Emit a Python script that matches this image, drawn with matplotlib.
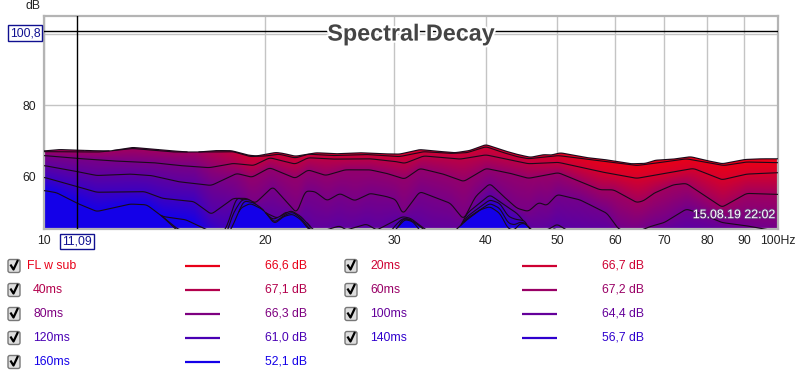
"""Spectral decay waterfall, REW style."""
import numpy as np
import matplotlib
matplotlib.use('Agg')
import matplotlib.pyplot as plt
import matplotlib.patheffects as pe
from matplotlib.patches import FancyBboxPatch

plt.rcParams['font.family'] = ['Liberation Sans', 'DejaVu Sans']

# curves, top to bottom (freq in Hz, level in dB)
F0 = [10, 10.5, 11.5, 12.3, 13.2, 14.5, 15, 16, 17.1, 18, 19, 19.5, 20.7, 21.2, 22, 23.5, 25, 27, 29, 30.5, 32.5, 34, 36.3, 38, 40, 42, 44, 46, 48, 49, 50.5, 55, 58, 60, 63, 66, 68, 72, 76, 80, 84, 90, 95, 100]
DB0 = [67.2, 67.6, 67.3, 67.2, 68.2, 67.5, 67.2, 66.8, 67.3, 67.3, 66.0, 65.8, 66.8, 66.5, 65.7, 66.7, 66.4, 66.7, 66.4, 66.3, 67.6, 67.2, 66.7, 67.3, 69.0, 67.5, 66.3, 65.4, 66.2, 66.0, 66.7, 65.3, 64.8, 64.3, 63.6, 63.7, 64.6, 64.9, 65.6, 64.5, 63.6, 64.8, 65.0, 65.0]
F1 = [10, 11.9, 13.2, 15, 17, 18.1, 19.1, 20.1, 20.9, 22, 22.9, 24.8, 27.5, 30.5, 32.9, 35.8, 37.7, 40, 42.3, 44.1, 45.7, 50.2, 54.3, 57.2, 64.2, 67.7, 75, 84.4, 90.6, 100]
DB1 = [67.0, 66.9, 67.9, 66.9, 66.9, 67.0, 65.6, 65.8, 66.3, 65.2, 66.3, 65.9, 66.2, 65.6, 67.0, 66.5, 66.7, 68.4, 66.7, 65.6, 65.0, 65.9, 65.0, 64.4, 63.1, 63.7, 65.0, 63.1, 64.1, 63.9]
F2 = [10, 11.1, 12.4, 14.1, 15.3, 16.8, 18.1, 19.3, 20.3, 22, 22.9, 24.8, 27.8, 30.2, 31, 32.9, 36.9, 40, 42.7, 45.7, 50.2, 57.2, 64.2, 69.2, 76.7, 83.9, 90.6, 100]
DB2 = [65.9, 65.1, 64.4, 63.9, 63.1, 62.5, 63.7, 63.1, 65.3, 63.5, 65.3, 64.9, 65.0, 64.2, 63.7, 65.8, 64.9, 66.1, 64.9, 63.6, 64.0, 61.4, 59.5, 60.7, 62.3, 59.1, 60.7, 61.1]
F3 = [10, 11.1, 11.8, 13.1, 14, 15.2, 16.9, 18.3, 19.2, 20.3, 22, 22.9, 24.2, 25.7, 27.8, 29.3, 31, 32.5, 35, 37.3, 40, 43.2, 45.7, 50.2, 57.2, 59.7, 64.2, 65.6, 67.7, 72, 75, 83.9, 90.6, 100]
DB3 = [63.1, 61.4, 60.3, 60.7, 60.3, 58.6, 57.5, 60.9, 59.8, 62.5, 59.5, 61.9, 60.3, 61.9, 61.9, 60.9, 59.3, 62.3, 60.7, 58.6, 62.3, 60.9, 59.5, 61.1, 56.3, 56.3, 52.7, 53.2, 55.3, 57.7, 58.1, 51.4, 55.3, 55.0]
F4 = [10, 11.1, 11.8, 13.7, 14.5, 16, 16.9, 18.1, 18.9, 19.4, 20.5, 22.1, 22.7, 23.4, 24.3, 25.3, 26.5, 27.8, 29.3, 30.2, 30.8, 32.5, 35.8, 37.3, 38.7, 40.5, 42.3, 44.1, 45.7, 47.2, 48.4, 50, 53.7, 58.5, 60.6, 63.5, 67, 70, 75, 78.3, 83.9, 90.6, 100]
DB4 = [59.8, 57.2, 55.6, 55.8, 53.9, 53.0, 49.4, 53.9, 53.9, 52.5, 57.2, 49.7, 56.0, 55.8, 53.2, 55.3, 53.2, 55.3, 54.4, 53.5, 49.3, 55.8, 52.5, 47.9, 54.4, 58.1, 54.4, 51.1, 50.2, 52.8, 51.8, 55.0, 53.5, 49.7, 45.3, 44.1, 46.0, 47.1, 50.9, 49.7, 47.1, 46.2, 44.6]
F5 = [10, 10.4, 11.1, 11.8, 13.1, 13.8, 14.5, 15.6, 16.7, 17.4, 17.7, 18.3, 19.3, 20.1, 20.8, 21.4, 22.1, 22.9, 23.4, 25.3, 25.8, 27.5, 28.4, 29.6, 30.8, 31.6, 33, 33.9, 36.5, 37.7, 40.5, 42.7, 44.1, 46, 46.9, 48.8, 50, 51.5, 54.9, 100]
DB5 = [56.1, 55.5, 52.5, 50.2, 52.3, 52.1, 48.8, 47.9, 45.0, 44.1, 45.3, 54.2, 52.3, 49.7, 48.3, 50.2, 48.8, 46.9, 44.1, 46.2, 45.0, 46.7, 45.0, 46.9, 48.8, 48.3, 45.3, 44.1, 44.1, 49.7, 54.9, 51.6, 49.7, 45.3, 44.1, 45.3, 46.7, 45.0, 43.6, 43.6]
F6 = [10, 10.4, 11.1, 11.8, 13.1, 13.8, 14.5, 15.2, 16.3, 17.7, 18.1, 18.6, 19.1, 19.6, 20.5, 21.2, 21.7, 22.4, 23.2, 24, 29.6, 30, 30.8, 31.5, 32.5, 33, 35.8, 36.7, 37.7, 40.5, 41.8, 42.9, 43.9, 45.3, 46, 49, 49.5, 50.5, 100]
DB6 = [56.1, 55.5, 52.5, 50.2, 52.3, 52.1, 48.8, 45.3, 43.6, 43.6, 49.7, 53.6, 53.5, 51.6, 47.9, 49.3, 50.5, 48.8, 45.3, 43.6, 44.1, 46.0, 48.3, 48.1, 46.0, 43.6, 43.6, 45.3, 48.8, 53.5, 52.5, 48.8, 48.0, 47.6, 44.1, 44.1, 46.0, 43.6, 43.6]
F7 = [10, 10.4, 11.1, 11.8, 13.1, 13.8, 14.5, 15.2, 16.3, 17.7, 18, 18.7, 19.3, 19.8, 20.6, 21.2, 21.8, 22.4, 23, 24, 29.6, 30.2, 30.8, 31.6, 32.9, 33.2, 35.8, 36.7, 37.7, 40.5, 41.8, 42.9, 43.9, 44.3, 45.3, 46, 49, 100]
DB7 = [56.1, 55.5, 52.5, 50.2, 52.3, 52.1, 48.8, 45.3, 43.6, 43.6, 45.3, 53.2, 52.7, 51.1, 47.1, 49.0, 50.1, 48.3, 45.3, 43.6, 43.6, 45.0, 48.2, 47.9, 45.3, 43.6, 43.6, 45.3, 48.3, 52.5, 51.1, 46.9, 46.4, 47.2, 47.1, 44.6, 43.6, 43.6]
F8 = [10, 10.4, 11.1, 11.8, 13.1, 13.8, 14.5, 15.1, 15.6, 17.7, 18, 18.5, 19.1, 19.9, 20.6, 21.2, 21.8, 22.4, 22.9, 23.8, 29.6, 30.2, 31, 31.8, 32.4, 32.9, 35.8, 36.5, 37.7, 39.3, 40.5, 41.8, 42.9, 43.9, 44.3, 45.3, 46, 46.9, 100]
DB8 = [56.1, 55.5, 52.5, 50.2, 52.3, 52.1, 48.8, 45.3, 43.6, 43.6, 45.3, 51.1, 52.5, 50.7, 46.7, 48.8, 49.5, 47.9, 45.3, 43.6, 43.6, 45.3, 48.0, 47.4, 45.3, 43.6, 43.6, 45.3, 47.9, 50.7, 51.6, 49.7, 45.3, 45.0, 46.7, 46.9, 45.0, 43.6, 43.6]

CURVE_F = [F0, F1, F2, F3, F4, F5, F6, F7, F8]
CURVE_DB = [DB0, DB1, DB2, DB3, DB4, DB5, DB6, DB7, DB8]

# which decay time the fill colour of each curve looks like, per part of the band
ZONE_F = [16, 19, 45, 58]
T_LEFT = [50, 55, 85, 105, 130, 160, 160, 160, 160]
T_MID = [15, 20, 35, 65, 85, 105, 125, 145, 160]
T_RIGHT = [0, 0, 15, 55, 90, 110, 130, 145, 160]

X_TICKS = [10, 20, 30, 40, 50, 60, 70, 80, 90, 100]
X_LABELS = ['10', '20', '30', '40', '50', '60', '70', '80', '90', '100Hz']
Y_TICKS = [60, 80, 100]
CURSOR_F = 11.09
CURSOR_DB = 100.8

LEGEND_NAMES = ['FL w sub', '20ms', '40ms', '60ms', '80ms', '100ms', '120ms', '140ms', '160ms']
LEGEND_TIMES = [0, 20, 40, 60, 80, 100, 120, 140, 160]
LEGEND_VALUES = ['66,6 dB', '66,7 dB', '67,1 dB', '67,2 dB', '66,3 dB', '64,4 dB', '61,0 dB', '56,7 dB', '52,1 dB']


def time_colour(t):
    k = np.asarray(t, dtype=float) / 160.0
    return np.stack([(232 - 212 * k) / 255, 0 * k, (24 + 208 * k) / 255], axis=-1)


fig = plt.figure(figsize=(8, 3.77), dpi=100, facecolor='white')
ax = fig.add_axes([44 / 800, 1 - 229 / 377, 734 / 800, 213 / 377])
ax.set_xscale('log')
ax.set_xlim(10, 100)
ax.set_ylim(45.3, 105.05)

# put every curve on one dense x grid and take the corners off
xs = np.logspace(1, 2, 735)
kernel = np.hanning(11)
kernel /= kernel.sum()
curves = []
for f, db in zip(CURVE_F, CURVE_DB):
    y = np.interp(np.log10(xs), np.log10(f), db)
    y = np.convolve(np.pad(y, 5, mode='edge'), kernel, mode='valid')
    curves.append(y)
curves = np.array(curves)

times = []
for a, b, c in zip(T_LEFT, T_MID, T_RIGHT):
    times.append(np.interp(np.log10(xs), np.log10(ZONE_F), [a, b, b, c]))
times = np.array(times)

# paint back to front, later slices over earlier ones
ys = np.linspace(45.3, 70, 420)
img = np.ones((len(ys), len(xs), 4))
img[..., 3] = 0
for s in np.linspace(0, 8, 241):
    i = min(int(s), 7)
    w = s - i
    top = curves[i] * (1 - w) + curves[i + 1] * w
    rgb = time_colour(times[i] * (1 - w) + times[i + 1] * w)
    mask = ys[:, None] <= top[None, :]
    col = np.broadcast_to(rgb[None, :, :], (len(ys), len(xs), 3))
    img[..., :3][mask] = col[mask]
    img[..., 3][mask] = 1

ax.grid(True, color='#c4c4c4', linewidth=1)
ax.set_axisbelow(True)
ax.pcolormesh(xs, ys, img, shading='auto', zorder=2, rasterized=True)

# a curve only shows where no later curve lies above it
for i in range(9):
    y = curves[i].copy()
    if i < 8:
        y[y <= curves[i + 1:].max(axis=0) + 0.02] = np.nan
    ax.plot(xs, y, color='#1a0a1a', linewidth=0.8, zorder=3)

ax.axvline(CURSOR_F, color='black', linewidth=1, zorder=5)
ax.axhline(CURSOR_DB, color='black', linewidth=1, zorder=5)

ax.set_xticks(X_TICKS)
ax.set_xticklabels(X_LABELS)
ax.minorticks_off()
ax.set_yticks(Y_TICKS)
ax.set_yticklabels(['60', '80', ''])
ax.tick_params(length=0, labelsize=8.8, colors='#222222', pad=4)
ax.tick_params(axis='y', pad=6)
for spine in ax.spines.values():
    spine.set_color('#b4b4b4')
    spine.set_linewidth(1.6)

ax.text(0.5, 0.915, 'Spectral Decay', transform=ax.transAxes, ha='center', va='center',
        fontsize=16.8, fontweight='bold', color='#444444', zorder=6,
        path_effects=[pe.withStroke(linewidth=3, foreground='white')])
ax.text(0.9965, 0.065, '15.08.19 22:02', transform=ax.transAxes, ha='right', va='center',
        fontsize=8.9, color='white', zorder=6,
        path_effects=[pe.withStroke(linewidth=1.2, foreground='#6a3a80')])

# everything outside the plot, in picture pixels
ov = fig.add_axes([0, 0, 1, 1], facecolor='none', zorder=10)
ov.set_xlim(0, 800)
ov.set_ylim(377, 0)
ov.axis('off')
ov.text(33, 6, 'dB', fontsize=8.8, color='#222222', ha='center', va='center')
box = dict(boxstyle='square,pad=0.15', facecolor='white', edgecolor='#101090', linewidth=1)
ov.text(25, 33, '100,8', fontsize=8.8, color='#101090', ha='center', va='center', bbox=box)
ov.text(77, 241.5, '11,09', fontsize=8.8, color='#101090', ha='center', va='center', bbox=box)

rows = [266, 290, 314, 338, 362]
for n, (name, t, value) in enumerate(zip(LEGEND_NAMES, LEGEND_TIMES, LEGEND_VALUES)):
    row, col = n // 2, n % 2
    yy = rows[row]
    x0 = 337 * col
    colour = time_colour(t)
    ov.add_patch(FancyBboxPatch((x0 + 8.5, yy - 6), 11, 12, boxstyle='round,pad=0.5,rounding_size=2',
                                facecolor='#dedede', edgecolor='#777777', linewidth=1))
    ov.plot([x0 + 11, x0 + 13.5, x0 + 17.5], [yy - 0.5, yy + 3.5, yy - 5], color='black', linewidth=1.6)
    if col == 0:
        tx = 27 if n == 0 else 33
        lx = 185
        vx = 265
    else:
        tx = 370
        lx = 522
        vx = 602
    ov.text(tx, yy, name, fontsize=8.8, color=colour, ha='left', va='center')
    ov.plot([lx, lx + 35], [yy, yy], color=colour, linewidth=1.6, solid_capstyle='butt')
    ov.text(vx, yy, value, fontsize=8.8, color=colour, ha='left', va='center')

plt.savefig('out.png', dpi=100)
plt.close()
